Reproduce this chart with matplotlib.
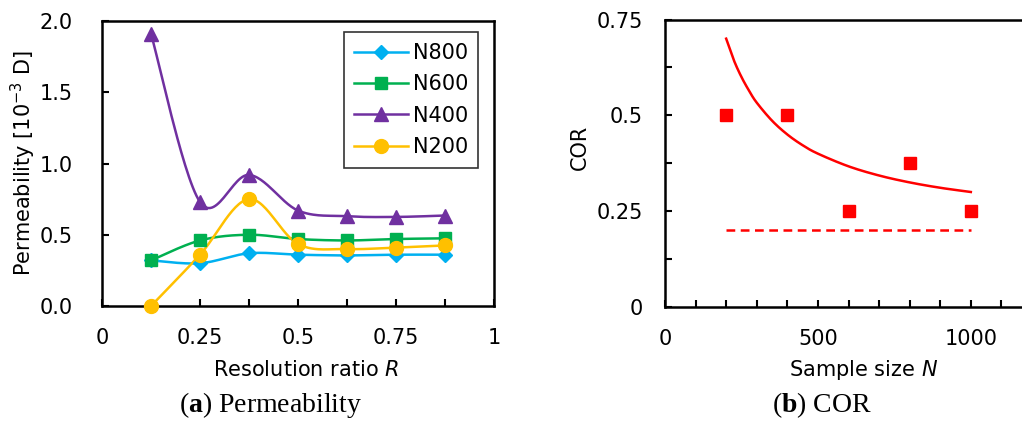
import numpy as np
import matplotlib
matplotlib.use("Agg")
import matplotlib.pyplot as plt
from matplotlib.ticker import MultipleLocator, FixedLocator

# ---------------- data ----------------
R = [0.125, 0.25, 0.375, 0.5, 0.625, 0.75, 0.875]
perm_N800 = [0.32, 0.30, 0.37, 0.36, 0.355, 0.36, 0.36]
perm_N600 = [0.32, 0.46, 0.50, 0.47, 0.46, 0.47, 0.475]
perm_N400 = [1.91, 0.73, 0.92, 0.67, 0.63, 0.625, 0.635]
perm_N200 = [0.00, 0.36, 0.75, 0.435, 0.40, 0.41, 0.425]
series_names = ["N800", "N600", "N400", "N200"]
x_ticklabels_a = ["0", "0.25", "0.5", "0.75", "1"]
y_ticklabels_a = ["0.0", "0.5", "1.0", "1.5", "2.0"]

N_samples = [200, 400, 600, 800, 1000]
COR_values = [0.50, 0.50, 0.25, 0.375, 0.25]
fit_N = [200, 225, 250, 275, 300, 350, 400, 450, 500, 600, 700, 800, 900, 1000]
fit_COR = [0.70, 0.644, 0.60, 0.564, 0.533, 0.486, 0.45, 0.422, 0.40, 0.367, 0.343,
           0.325, 0.311, 0.30]
limit_N = [200, 1000]
limit_COR = [0.20, 0.20]
y_ticklabels_b = ["0", "0.25", "0.5", "0.75"]

# ---------------- helpers ----------------
def catmull_rom(x, y, n=30):
    P = np.column_stack([x, y]).astype(float)
    P = np.vstack([P[0], P, P[-1]])
    out = []
    t = np.linspace(0, 1, n)[:, None]
    for i in range(1, len(P) - 2):
        p0, p1, p2, p3 = P[i - 1], P[i], P[i + 1], P[i + 2]
        seg = 0.5 * ((2 * p1) + (-p0 + p2) * t + (2 * p0 - 5 * p1 + 4 * p2 - p3) * t ** 2
                     + (-p0 + 3 * p1 - 3 * p2 + p3) * t ** 3)
        out.append(seg if i == 1 else seg[1:])
    S = np.vstack(out)
    return S[:, 0], S[:, 1]

plt.rcParams['font.family'] = ['DejaVu Sans']
plt.rcParams['mathtext.fontset'] = 'custom'
plt.rcParams['mathtext.rm'] = 'DejaVu Sans'
plt.rcParams['mathtext.it'] = 'DejaVu Sans:italic'
plt.rcParams['mathtext.bf'] = 'Liberation Serif:bold'
FS = 15

W, H = 1022, 425
fig = plt.figure(figsize=(W / 100, H / 100), dpi=100)

def fx_(px):
    return px / W

def fy_(py):
    return 1 - py / H

# ---------------- panel (a) ----------------
ax1 = fig.add_axes([102/W, 1-306/H, (494-102)/W, (306-21)/H])
colors = ["#00B0F0", "#00B050", "#7030A0", "#FFC000"]
markers = ["D", "s", "^", "o"]
msizes = [7, 9, 10, 10]
data = [perm_N800, perm_N600, perm_N400, perm_N200]
handles = []
for name, ys, c, m, ms in zip(series_names, data, colors, markers, msizes):
    sx, sy = catmull_rom(R, ys)
    ax1.plot(sx, sy, color=c, lw=1.8, zorder=2)
    ax1.plot(R, ys, ls="none", marker=m, ms=ms, color=c, mec=c, zorder=3, clip_on=False)
    h, = ax1.plot([], [], color=c, lw=1.8, marker=m, ms=ms, mec=c, label=name)
    handles.append(h)

ax1.set_xlim(0, 1)
ax1.set_ylim(0, 2.0)
ax1.xaxis.set_major_locator(FixedLocator([0, 0.25, 0.5, 0.75, 1]))
ax1.xaxis.set_minor_locator(FixedLocator([0.125, 0.375, 0.625, 0.875]))
ax1.set_xticklabels(x_ticklabels_a)
ax1.yaxis.set_major_locator(FixedLocator([0, 0.5, 1.0, 1.5, 2.0]))
ax1.set_yticklabels(y_ticklabels_a)
ax1.tick_params(axis="both", which="both", direction="in", width=1.5, length=5, labelsize=FS)
ax1.tick_params(axis="x", which="major", pad=16)
ax1.tick_params(axis="y", which="major", pad=21)
for s in ax1.spines.values():
    s.set_linewidth(1.8)
fig.text(fx_(306), fy_(370), "Resolution ratio $\\mathit{R}$", fontsize=FS,
         ha="center", va="center")
fig.text(fx_(23), fy_(163), "Permeability [10$^{\\mathregular{-3}}$ D]", fontsize=FS,
         ha="center", va="center", rotation=90)
leg = ax1.legend(handles=handles, loc="upper right", bbox_to_anchor=(0.96, 0.96),
                 fontsize=FS, frameon=True, fancybox=False, edgecolor="black",
                 handlelength=2.6, handletextpad=0.2, labelspacing=0.55, borderpad=0.5,
                 borderaxespad=0)
leg.get_frame().set_linewidth(1.2)

# ---------------- panel (b) ----------------
ax2 = fig.add_axes([665/W, 1-307/H, (1032-665)/W, (307-19.5)/H])
cx, cy = catmull_rom(fit_N, fit_COR)
ax2.plot(cx, cy, color="#FF0000", lw=1.8)
ax2.plot(limit_N, limit_COR, color="#FF0000", lw=1.8, ls=(0, (3.5, 2.2)))
ax2.plot(N_samples, COR_values, ls="none", marker="s", ms=9, color="#FF0000")
ax2.set_xlim(0, 1200)
ax2.set_ylim(0, 0.75)
ax2.xaxis.set_major_locator(FixedLocator([0, 500, 1000]))
ax2.xaxis.set_minor_locator(MultipleLocator(100))
ax2.yaxis.set_major_locator(FixedLocator([0, 0.25, 0.5, 0.75]))
ax2.yaxis.set_minor_locator(MultipleLocator(0.125))
ax2.set_yticklabels(y_ticklabels_b)
ax2.tick_params(axis="both", which="both", direction="in", width=1.5, length=5, labelsize=FS)
ax2.tick_params(axis="x", which="major", pad=16)
ax2.tick_params(axis="y", which="major", pad=16)
for s in ax2.spines.values():
    s.set_linewidth(1.8)
fig.text(fx_(864), fy_(370), "Sample size $\\mathit{N}$", fontsize=FS,
         ha="center", va="center")
fig.text(fx_(580), fy_(147), "COR", fontsize=FS, ha="center", va="center", rotation=90)

# ---------------- captions ----------------
serif = ['Liberation Serif', 'DejaVu Serif']
fig.text(fx_(270), fy_(405), "($\\mathbf{a}$) Permeability", ha="center", va="center",
         fontsize=20, family=serif)
fig.text(fx_(822), fy_(405), "($\\mathbf{b}$) COR", ha="center", va="center",
         fontsize=20, family=serif)

fig.savefig("out.png", dpi=100)
